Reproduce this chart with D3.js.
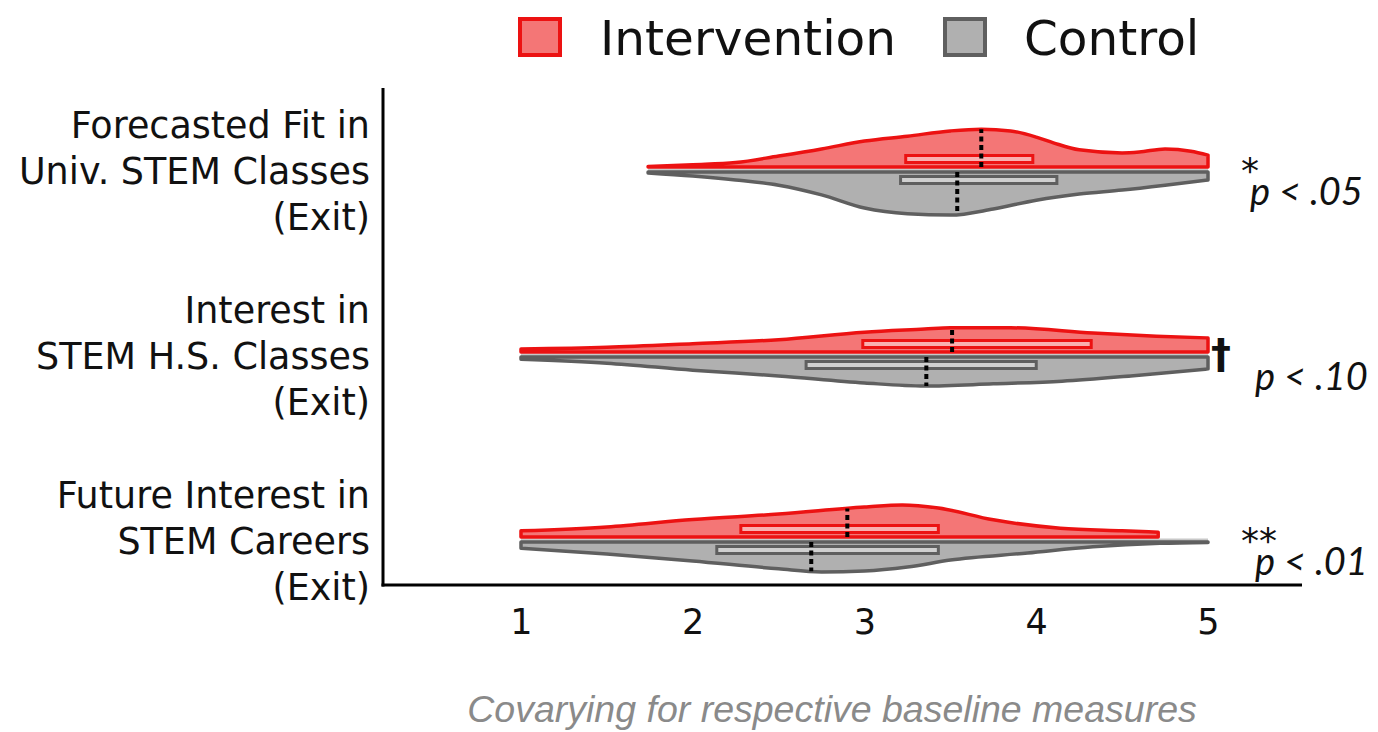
<!DOCTYPE html>
<html><head><meta charset="utf-8">
<script src="https://cdn.jsdelivr.net/npm/d3@7"></script>
<style>body{margin:0;background:#fff}</style>
</head><body><svg id="c" width="1378" height="732"></svg>
<script>
// ---------------- data ----------------
const categories = [
  ["Forecasted Fit in", "Univ. STEM Classes", "(Exit)"],
  ["Interest in", "STEM H.S. Classes", "(Exit)"],
  ["Future Interest in", "STEM Careers", "(Exit)"]
];
const seriesNames = ["Intervention", "Control"];
const xTicks = [1, 2, 3, 4, 5];

// Intervention density outlines (value grid, relative density)
const intGrid = [
  [1.74, 2.0, 2.25, 2.5, 2.75, 3.0, 3.25, 3.5, 3.68, 3.85, 4.0, 4.1, 4.25, 4.5, 4.6, 4.75, 4.9, 5.0],
  [1.0, 1.5, 2.0, 2.5, 3.0, 3.35, 3.5, 3.85, 4.33, 4.7, 5.0],
  [1.0, 1.5, 2.0, 2.5, 3.0, 3.22, 3.43, 3.75, 4.14, 4.5, 4.71]
];
const intDensity = [
  [0.01, 0.05, 0.10, 0.25, 0.41, 0.59, 0.70, 0.82, 0.86, 0.82, 0.68, 0.55, 0.39, 0.32, 0.34, 0.41, 0.36, 0.27],
  [0.07, 0.11, 0.19, 0.28, 0.45, 0.52, 0.55, 0.55, 0.43, 0.36, 0.32],
  [0.14, 0.23, 0.40, 0.52, 0.68, 0.73, 0.66, 0.39, 0.20, 0.14, 0.11]
];
// Control density outlines
const ctlGrid = [
  [1.74, 2.0, 2.25, 2.5, 2.75, 3.0, 3.25, 3.5, 3.75, 4.0, 4.25, 4.5, 4.75, 5.0],
  [1.0, 1.5, 2.0, 2.5, 3.0, 3.35, 3.75, 4.15, 4.55, 5.0],
  [1.0, 1.5, 2.0, 2.5, 2.75, 3.0, 3.25, 3.5, 3.95, 4.33, 4.72, 5.0]
];
const ctlDensity = [
  [0.02, 0.09, 0.18, 0.30, 0.52, 0.82, 0.95, 0.98, 0.84, 0.64, 0.50, 0.41, 0.30, 0.18],
  [0.05, 0.14, 0.30, 0.43, 0.59, 0.66, 0.61, 0.55, 0.43, 0.27],
  [0.14, 0.27, 0.43, 0.61, 0.68, 0.66, 0.57, 0.41, 0.25, 0.11, 0.03, 0.01]
];
// Box-plot summaries
const intQ1 = [3.24, 2.99, 2.28];
const intMedian = [3.68, 3.51, 2.90];
const intQ3 = [3.98, 4.32, 3.43];
const ctlQ1 = [3.21, 2.66, 2.14];
const ctlMedian = [3.54, 3.36, 2.69];
const ctlQ3 = [4.12, 4.00, 3.43];

const sigMarks = ["*", "\u2020", "**"];
const sigLabels = ["p < .05", "p < .10", "p < .01"];
const caption = "Covarying for respective baseline measures";

// ---------------- drawing ----------------
const svg = d3.select("#c");
const x = d3.scaleLinear().domain([1, 5]).range([521, 1208]);
const y = d3.scalePoint().domain(d3.range(categories.length)).range([169.5, 539.5]);
const w = d3.scaleLinear().domain([0, 1]).range([0, 44]);

const colors = {
  int: { fill: "#f47676", stroke: "#ec1212", box: "#f9b0b0" },
  ctl: { fill: "#b0b0b0", stroke: "#5f5f5f", box: "#d0d0d0" }
};

function densAt(grid, dens, v) {
  const i = d3.bisectLeft(grid, v);
  if (i <= 0) return dens[0];
  if (i >= grid.length) return dens[dens.length - 1];
  const t = (v - grid[i - 1]) / (grid[i] - grid[i - 1]);
  return dens[i - 1] + t * (dens[i] - dens[i - 1]);
}

const half = 2.5;
categories.forEach((cat, i) => {
  const c = y(i);
  const g = svg.append("g");
  // Control (below)
  const cb = c + half;
  const cpts = ctlGrid[i].map((v, k) => [v, ctlDensity[i][k]]);
  g.append("path")
    .attr("d", d3.area().x(d => x(d[0])).y0(c - 1).y1(d => cb + w(d[1])).curve(d3.curveMonotoneX)(cpts))
    .attr("fill", "#c8c8c8");
  g.append("path")
    .attr("d", d3.area().x(d => x(d[0])).y0(cb).y1(d => cb + w(d[1])).curve(d3.curveMonotoneX)(cpts))
    .attr("fill", colors.ctl.fill).attr("stroke", colors.ctl.stroke).attr("stroke-width", 3.5)
    .attr("stroke-linejoin", "round");
  g.append("rect")
    .attr("x", x(ctlQ1[i])).attr("width", x(ctlQ3[i]) - x(ctlQ1[i]))
    .attr("y", cb + 4.5).attr("height", 7)
    .attr("fill", colors.ctl.box).attr("stroke", colors.ctl.stroke).attr("stroke-width", 3);
  g.append("line")
    .attr("x1", x(ctlMedian[i])).attr("x2", x(ctlMedian[i]))
    .attr("y1", cb).attr("y2", cb + w(densAt(ctlGrid[i], ctlDensity[i], ctlMedian[i])))
    .attr("stroke", "#000").attr("stroke-width", 4).attr("stroke-dasharray", "5,3.5");

  // Intervention (above)
  const ib = c - half;
  const ipts = intGrid[i].map((v, k) => [v, intDensity[i][k]]);
  g.append("path")
    .attr("d", d3.area().x(d => x(d[0])).y0(ib).y1(d => ib - w(d[1])).curve(d3.curveMonotoneX)(ipts))
    .attr("fill", colors.int.fill).attr("stroke", colors.int.stroke).attr("stroke-width", 3.5)
    .attr("stroke-linejoin", "round");
  g.append("rect")
    .attr("x", x(intQ1[i])).attr("width", x(intQ3[i]) - x(intQ1[i]))
    .attr("y", ib - 11.5).attr("height", 7)
    .attr("fill", colors.int.box).attr("stroke", colors.int.stroke).attr("stroke-width", 3);
  g.append("line")
    .attr("x1", x(intMedian[i])).attr("x2", x(intMedian[i]))
    .attr("y1", ib).attr("y2", ib - w(densAt(intGrid[i], intDensity[i], intMedian[i])))
    .attr("stroke", "#000").attr("stroke-width", 4).attr("stroke-dasharray", "5,3.5");

  // Category labels
  const t = svg.append("text")
    .attr("text-anchor", "end")
    .attr("font-family", "DejaVu Sans").attr("font-size", 36.5).attr("fill", "#111");
  cat.forEach((line, k) => {
    t.append("tspan").attr("x", 370).attr("y", c + 14 + (k - 1) * 46).text(line);
  });

  // significance annotations
  svg.append("text").attr("x", i === 1 ? 1211 : 1241).attr("y", i === 1 ? 368 : c + 13)
    .attr("font-family", "DejaVu Sans").attr("font-weight", i === 1 ? "bold" : "normal")
    .attr("font-size", i === 1 ? 40 : 36).attr("fill", "#111")
    .text(sigMarks[i]);
  svg.append("text").attr("x", i === 0 ? 1250 : 1255).attr("y", c + 35)
    .attr("font-family", "Lato").attr("font-style", "italic").attr("font-size", 38).attr("fill", "#111")
    .text(sigLabels[i]);
});

// Axes
svg.append("line").attr("x1", 383).attr("x2", 383).attr("y1", 88).attr("y2", 586.5)
  .attr("stroke", "#000").attr("stroke-width", 3);
svg.append("line").attr("x1", 381.5).attr("x2", 1302).attr("y1", 585).attr("y2", 585)
  .attr("stroke", "#000").attr("stroke-width", 3);
const ax = svg.append("g").attr("transform", "translate(0,585)")
  .call(d3.axisBottom(x).tickValues(xTicks).tickFormat(d3.format("d")).tickSize(0).tickPadding(24));
ax.select(".domain").remove();
ax.selectAll("text").attr("font-family", "DejaVu Sans").attr("font-size", 35).attr("fill", "#111");

// Legend
const legend = [
  { name: seriesNames[0], c: colors.int, rx: 520, tx: 600 },
  { name: seriesNames[1], c: colors.ctl, rx: 945, tx: 1024 }
];
legend.forEach(l => {
  svg.append("rect").attr("x", l.rx).attr("y", 19).attr("width", 40).attr("height", 36)
    .attr("fill", l.c.fill).attr("stroke", l.c.stroke).attr("stroke-width", 4);
  svg.append("text").attr("x", l.tx).attr("y", 55)
    .attr("font-family", "DejaVu Sans").attr("font-size", 48.5).attr("fill", "#111").text(l.name);
});

// Caption
svg.append("text").attr("x", 832).attr("y", 722).attr("text-anchor", "middle")
  .attr("font-family", "Liberation Sans").attr("font-style", "italic").attr("font-size", 37.5)
  .attr("fill", "#8a8a8a").text(caption);
</script></body></html>
